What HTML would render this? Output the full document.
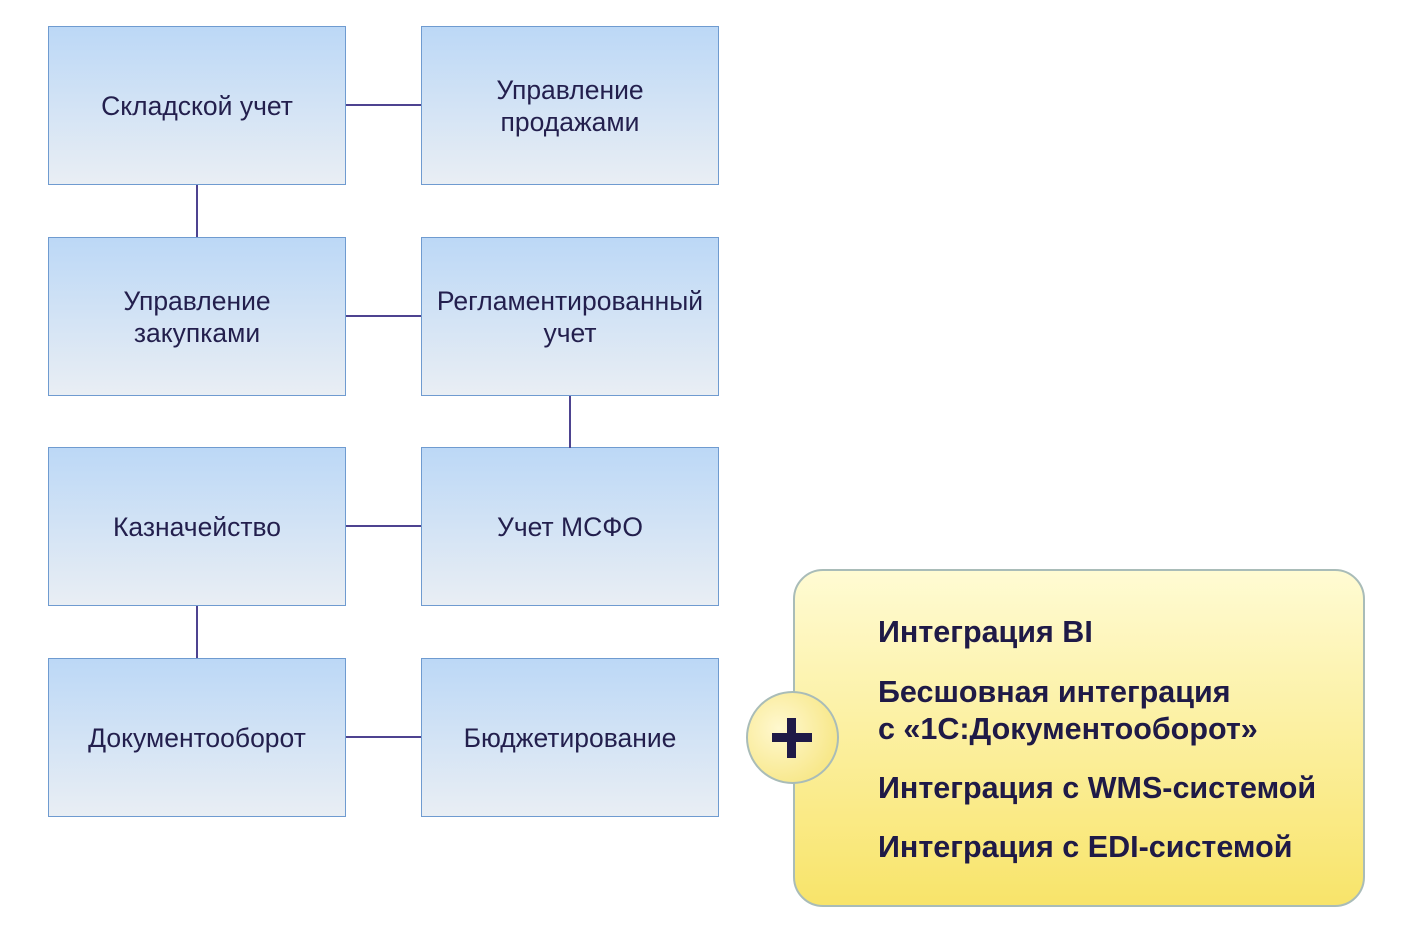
<!DOCTYPE html>
<html><head><meta charset="utf-8"><style>
body{margin:0;width:1413px;height:933px;background:#fff;position:relative;overflow:hidden;font-family:"Liberation Sans",sans-serif;}
.b{position:absolute;width:296px;height:157px;border:1px solid #6f9bd0;background:linear-gradient(#bcd8f6,#e9eef4);display:flex;align-items:center;justify-content:center;text-align:center;font-size:26.5px;line-height:32px;color:#231f4d;}
.h,.v{position:absolute;background:#4d4390;}
.h{height:2px;width:75px;left:346px}
.v{width:2px;height:52px}
.y{position:absolute;left:793px;top:569px;width:568px;height:334px;border:2px solid #a9bcb8;border-radius:30px;background:linear-gradient(#fffbd3,#f8e46a);}
.t{position:absolute;left:878px;font-weight:bold;font-size:30.5px;line-height:37px;color:#1f1a47;white-space:nowrap}
.c{position:absolute;left:746px;top:691px;width:89px;height:89px;border-radius:50%;border:2px solid #a9bcb8;background:radial-gradient(circle at 35% 40%,#fff8cf,#f5e272);}
</style></head><body>
<div class="b" style="left:48px;top:26px">Складской учет</div>
<div class="b" style="left:421px;top:26px">Управление<br>продажами</div>
<div class="b" style="left:48px;top:237px">Управление<br>закупками</div>
<div class="b" style="left:421px;top:237px">Регламентированный<br>учет</div>
<div class="b" style="left:48px;top:447px">Казначейство</div>
<div class="b" style="left:421px;top:447px">Учет МСФО</div>
<div class="b" style="left:48px;top:658px">Документооборот</div>
<div class="b" style="left:421px;top:658px">Бюджетирование</div>
<div class="h" style="top:104px"></div>
<div class="h" style="top:315px"></div>
<div class="h" style="top:525px"></div>
<div class="h" style="top:736px"></div>
<div class="v" style="left:196px;top:185px"></div>
<div class="v" style="left:569px;top:396px"></div>
<div class="v" style="left:196px;top:606px"></div>
<div class="y"></div>
<div class="t" style="top:614px">Интеграция BI</div>
<div class="t" style="top:674px">Бесшовная интеграция<br>с «1С:Документооборот»</div>
<div class="t" style="top:770px">Интеграция с WMS-системой</div>
<div class="t" style="top:829px">Интеграция с EDI-системой</div>
<div class="c"></div>
<div style="position:absolute;left:772px;top:733px;width:40px;height:9px;background:#1f1a47"></div>
<div style="position:absolute;left:787px;top:718px;width:9px;height:40px;background:#1f1a47"></div>
</body></html>
